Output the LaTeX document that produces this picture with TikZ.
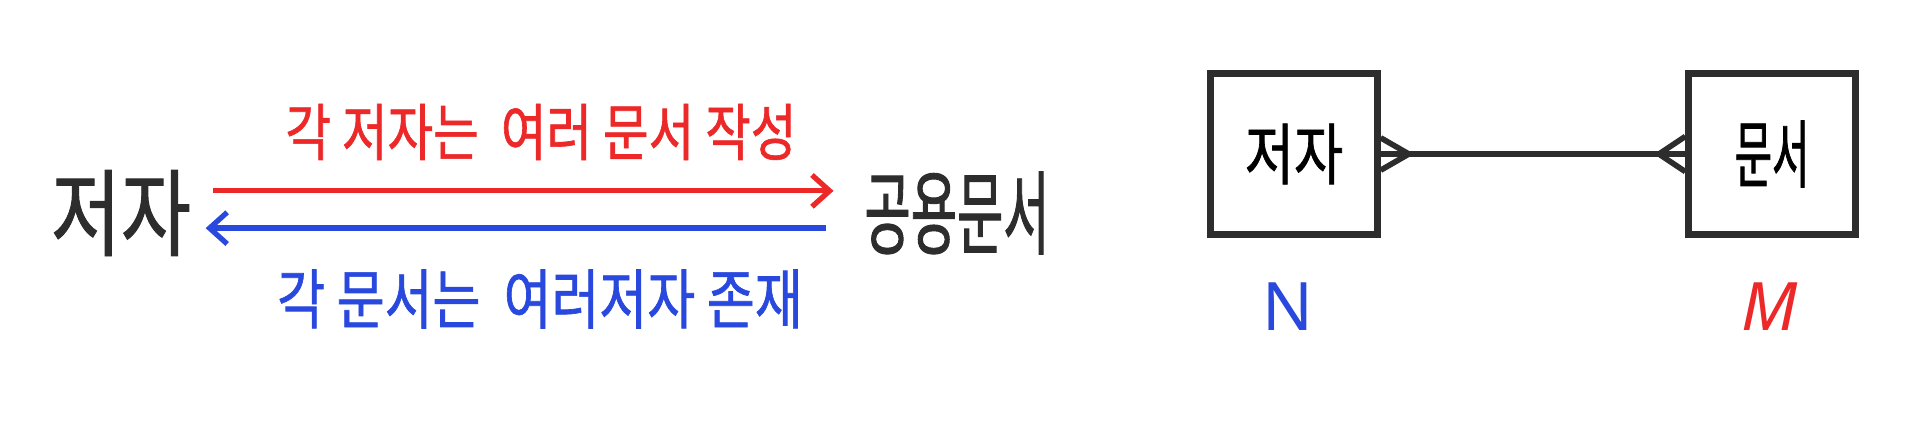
\documentclass[tikz,border=0pt]{standalone}
\usepackage{fontspec}
\usepackage{tikz}
\usetikzlibrary{arrows.meta}
\newfontfamily\kr[FakeStretch=0.8, FakeBold=1]{Noto Sans CJK KR}
\newfontfamily\krserre[FakeStretch=0.55, FakeBold=1]{Noto Sans CJK KR}
\newfontfamily\lat{Noto Sans}
\definecolor{rouge}{RGB}{236,40,40}
\definecolor{bleu}{RGB}{40,72,222}
\definecolor{crayon}{RGB}{45,45,45}

\begin{document}
\begin{tikzpicture}[x=0.01cm, y=-0.01cm]
\tikzset{mot/.style={inner sep=2pt, text=crayon},
  fleche/.style={line width=1.5pt, -{Straight Barb[length=5pt, width=9pt, line width=1.5pt]}},
  boite/.style={draw=crayon, line width=1.8pt, minimum width=1.67cm, minimum height=1.61cm, inner sep=0pt},
  patte/.style={draw=crayon, line width=1.6pt}}
\useasboundingbox (0,0) rectangle (1911,423);
% relation a gauche
\node[mot, font=\kr\fontsize{27}{27}\selectfont] (A) at (121,213) {저자};
\node[mot, font=\krserre\fontsize{26}{26}\selectfont] (D) at (957,213) {공용문서};
\node[mot, text=rouge, font=\kr\fontsize{17.6}{17.6}\selectfont] (R) at (541,132) {각 저자는\ \ 여러 문서 작성};
\node[mot, text=bleu, font=\kr\fontsize{18.5}{18.5}\selectfont] (B) at (540,299) {각 문서는\ \ 여러저자 존재};
\draw[fleche, rouge, shorten <=4pt, shorten >=6.6pt] ([yshift=6.3pt]A.east) -- ([yshift=6.3pt]D.west);
\draw[fleche, bleu, shorten <=8.7pt, shorten >=2pt] ([yshift=-4.3pt]D.west) -- ([yshift=-4.3pt]A.east);
% modele E-R
\node[boite, font=\kr\fontsize{19}{19}\selectfont] (E1) at (1294,154) {저자};
\node[boite, font=\krserre\fontsize{21}{21}\selectfont] (E2) at (1772,154) {문서};
\draw[patte] (E1.east) -- (E2.west);
\draw[patte] ([yshift=4.6pt]E1.east) -- ([xshift=8pt]E1.east) -- ([yshift=-4.6pt]E1.east);
\draw[patte] ([yshift=5pt]E2.west) -- ([xshift=-7.5pt]E2.west) -- ([yshift=-5pt]E2.west);
\node[text=bleu, font=\lat\fontsize{19}{19}\selectfont] (N) at (1288,307) {N};
\node[text=rouge, font=\lat\itshape\fontsize{19}{19}\selectfont] (M) at (1770,307) {M};
\end{tikzpicture}
\end{document}
